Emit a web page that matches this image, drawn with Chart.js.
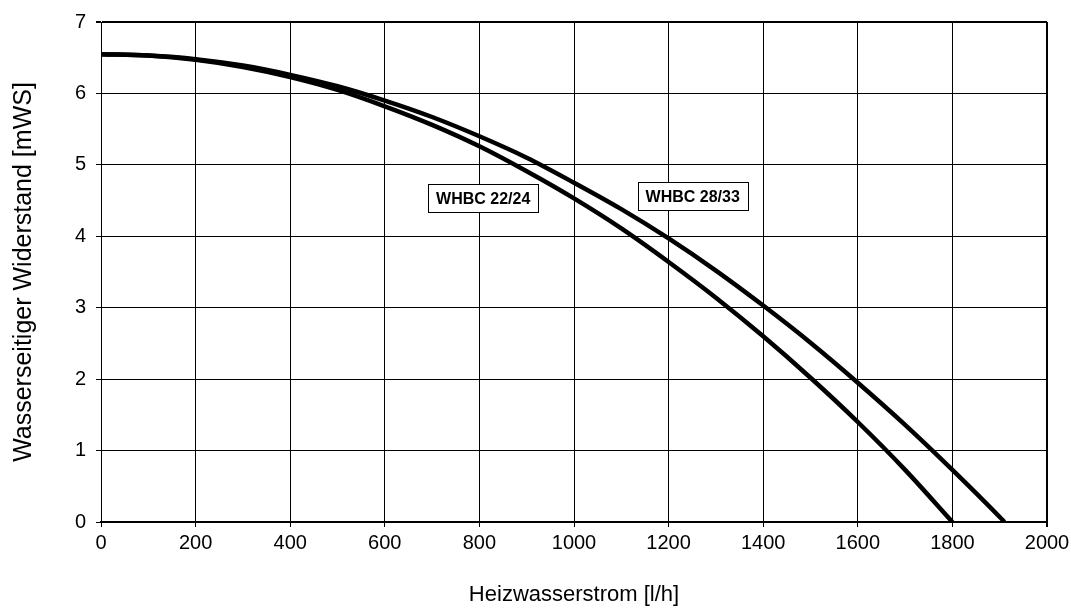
<!DOCTYPE html>
<html>
<head>
<meta charset="utf-8">
<script src="https://cdn.jsdelivr.net/npm/chart.js@4/dist/chart.umd.min.js"></script>
<style>
  html, body { margin: 0; padding: 0; background: #fff; }
  #wrap { width: 1071px; height: 608px; }
</style>
</head>
<body>
<div id="wrap"><canvas id="chart"></canvas></div>
<script>
// Heizwasserstrom [l/h]
const flowA = [0, 100, 200, 300, 400, 500, 600, 700, 800, 900, 1000, 1100, 1200, 1300, 1400, 1500, 1600, 1700, 1800];
// Widerstand WHBC 22/24 [mWS]
const headA = [6.55, 6.53, 6.47, 6.37, 6.23, 6.05, 5.82, 5.56, 5.26, 4.91, 4.53, 4.11, 3.64, 3.14, 2.6, 2.02, 1.4, 0.73, 0];

const flowB = [0, 100, 200, 300, 400, 500, 600, 700, 800, 900, 1000, 1100, 1200, 1300, 1400, 1500, 1600, 1700, 1800, 1900, 1910];
// Widerstand WHBC 28/33 [mWS]
const headB = [6.55, 6.53, 6.48, 6.39, 6.26, 6.10, 5.90, 5.67, 5.40, 5.10, 4.75, 4.38, 3.97, 3.52, 3.03, 2.51, 1.95, 1.36, 0.73, 0.07, 0];

// Beschriftungen: Text, x, y (Datenwerte)
const labelText = ['WHBC 22/24', 'WHBC 28/33'];
const labelX = [808, 1251];
const labelY = [4.53, 4.56];

function pts(xs, ys) {
  return xs.map((x, i) => ({ x: x, y: ys[i] }));
}

const boxLabels = {
  id: 'boxLabels',
  afterDatasetsDraw(chart) {
    const ctx = chart.ctx;
    const sx = chart.scales.x, sy = chart.scales.y;
    ctx.save();
    ctx.font = 'bold 16px "Liberation Sans", Arial, sans-serif';
    ctx.textAlign = 'center';
    ctx.textBaseline = 'middle';
    for (let i = 0; i < labelText.length; i++) {
      const px = sx.getPixelForValue(labelX[i]);
      const py = sy.getPixelForValue(labelY[i]);
      const w = ctx.measureText(labelText[i]).width + 16;
      const h = 28;
      ctx.fillStyle = '#fff';
      ctx.fillRect(Math.round(px - w / 2) + 0.5, Math.round(py - h / 2) + 0.5, Math.round(w), h);
      ctx.strokeStyle = '#000';
      ctx.lineWidth = 1;
      ctx.strokeRect(Math.round(px - w / 2) + 0.5, Math.round(py - h / 2) + 0.5, Math.round(w), h);
      ctx.fillStyle = '#000';
      ctx.fillText(labelText[i], px, py + 1);
    }
    ctx.restore();
  }
};

Chart.defaults.font.family = '"Liberation Sans", Arial, sans-serif';
Chart.defaults.color = '#000';

new Chart(document.getElementById('chart'), {
  type: 'scatter',
  data: {
    datasets: [
      {
        label: 'WHBC 22/24',
        data: pts(flowA, headA),
        showLine: true,
        borderColor: '#000',
        borderWidth: 4.5,
        pointRadius: 0,
        cubicInterpolationMode: 'monotone'
      },
      {
        label: 'WHBC 28/33',
        data: pts(flowB, headB),
        showLine: true,
        borderColor: '#000',
        borderWidth: 4.5,
        pointRadius: 0,
        cubicInterpolationMode: 'monotone'
      }
    ]
  },
  options: {
    responsive: true,
    maintainAspectRatio: false,
    animation: false,
    layout: { padding: { top: 21, right: 24, bottom: 0, left: 0 } },
    plugins: {
      legend: { display: false },
      tooltip: { enabled: false }
    },
    scales: {
      x: {
        type: 'linear',
        min: 0,
        max: 2000,
        ticks: { stepSize: 200, font: { size: 20 }, padding: 4, maxRotation: 0, callback: v => String(v) },
        grid: {
          color: '#000',
          lineWidth: c => (c.tick && c.tick.value === 2000 ? 2 : 1),
          tickLength: 5
        },
        border: { color: '#000', width: 2 },
        title: {
          display: true,
          text: 'Heizwasserstrom [l/h]',
          font: { size: 22 },
          padding: { top: 0, bottom: 0 }
        },
        afterFit(scale) {
          scale.height = 86;
          scale.paddingRight = 20;
        }
      },
      y: {
        min: 0,
        max: 7,
        ticks: { stepSize: 1, font: { size: 20 }, padding: 10, callback: v => String(v) },
        grid: {
          color: '#000',
          lineWidth: c => (c.tick && c.tick.value === 7 ? 2 : 1),
          tickLength: 5
        },
        border: { color: '#000', width: 1 },
        title: {
          display: true,
          text: 'Wasserseitiger Widerstand [mWS]',
          font: { size: 25 },
          padding: { top: 9, bottom: 0 }
        },
        afterFit(scale) { scale.width = 101; }
      }
    }
  },
  plugins: [boxLabels]
});
</script>
</body>
</html>
